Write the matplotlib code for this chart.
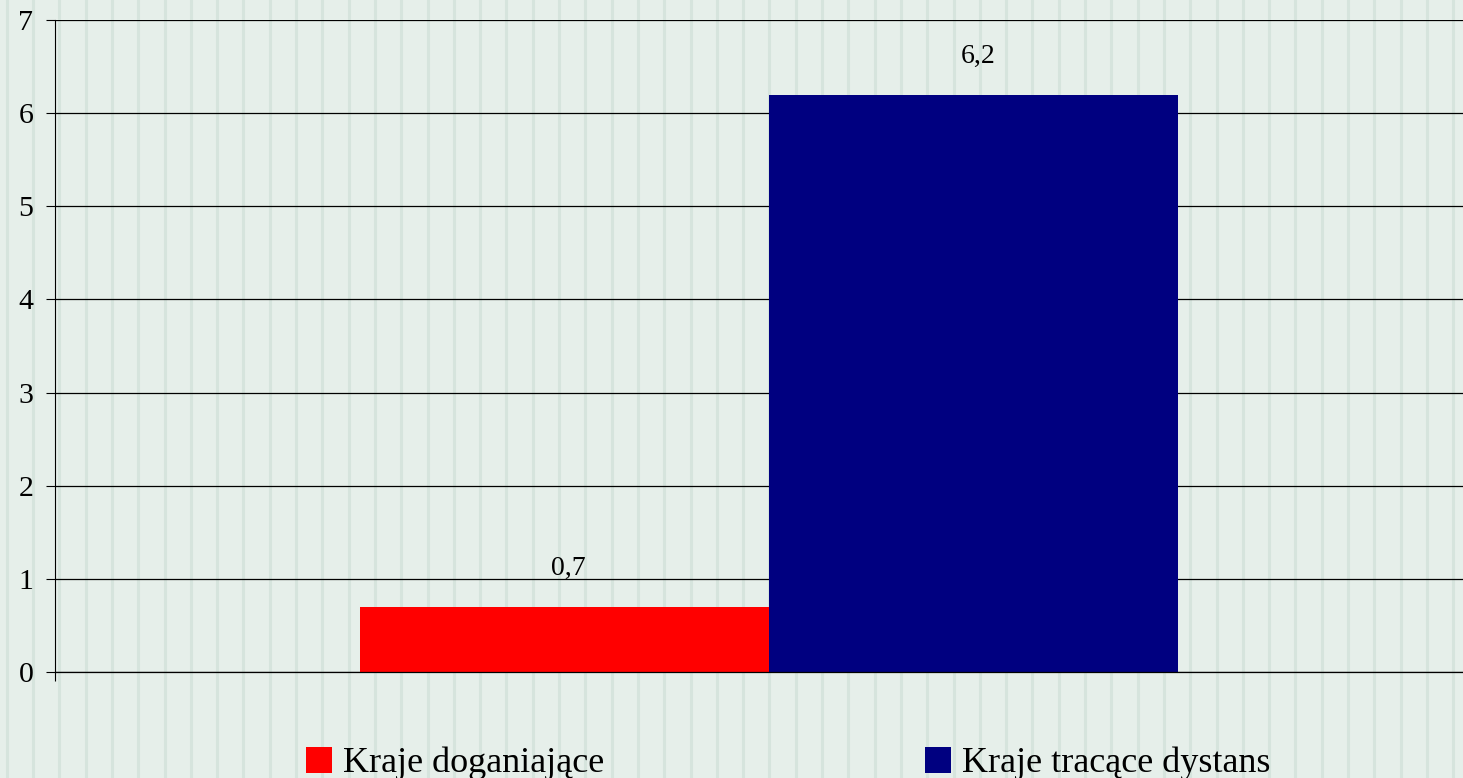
import numpy as np
import matplotlib.pyplot as plt
from matplotlib.patches import Patch

# dane
series = ['Kraje doganiające', 'Kraje tracące dystans']
values = [0.7, 6.2]
labels = ['0,7', '6,2']
colors = ['#FF0000', '#000080']
y_ticks = [0, 1, 2, 3, 4, 5, 6, 7]

plt.rcParams['font.family'] = ['Liberation Serif', 'DejaVu Serif']

fig = plt.figure(figsize=(14.63, 7.78), dpi=100)
fig.patch.set_facecolor('#E6EFEA')

# tło w paski
bg = fig.add_axes([0, 0, 1, 1], zorder=-1)
bg.set_xlim(0, 1463)
bg.set_ylim(0, 778)
bg.axis('off')
for xs in np.arange(6.7, 1463, 26.3):
    bg.axvline(xs, color='#D6E4DD', lw=2.2, zorder=0)

ax = fig.add_axes([55 / 1463, 106 / 778, 1428 / 1463, 652 / 778])
ax.set_facecolor('none')

w = 0.2864
offsets = [-w / 2, w / 2]
for v, c, off, lab in zip(values, colors, offsets, labels):
    ax.bar(off, v, width=w, color=c, zorder=3)
    ax.text(off + 0.003, v + 0.34, lab, ha='center', va='baseline', fontsize=20, zorder=4)

ax.set_xlim(-0.5, 0.5)
ax.set_ylim(0, 7)
ax.set_yticks(y_ticks)
ax.set_yticklabels([str(t) for t in y_ticks], fontsize=21.5)
ax.set_xticks([-0.5])
ax.set_xticklabels([''])
ax.tick_params(axis='both', direction='out', length=6.5, width=0.8, color='black')
ax.tick_params(axis='y', pad=9)
ax.yaxis.grid(True, color='black', lw=0.9, zorder=1)
ax.set_axisbelow(True)
for s in ['top', 'right']:
    ax.spines[s].set_visible(False)
ax.spines['left'].set_linewidth(0.8)
ax.spines['bottom'].set_linewidth(0.9)
ax.spines['bottom'].set_zorder(5)

handles = [Patch(facecolor=c, edgecolor='none', label=s) for s, c in zip(series, colors)]
fig.legend(handles=handles, ncol=2, frameon=False, loc='center left',
           bbox_to_anchor=(306 / 1463, 14.5 / 778), fontsize=26,
           handlelength=0.72, handleheight=0.72, handletextpad=0.3,
           columnspacing=8.9, borderpad=0, borderaxespad=0)

fig.savefig('out.png', dpi=100, facecolor=fig.get_facecolor())
